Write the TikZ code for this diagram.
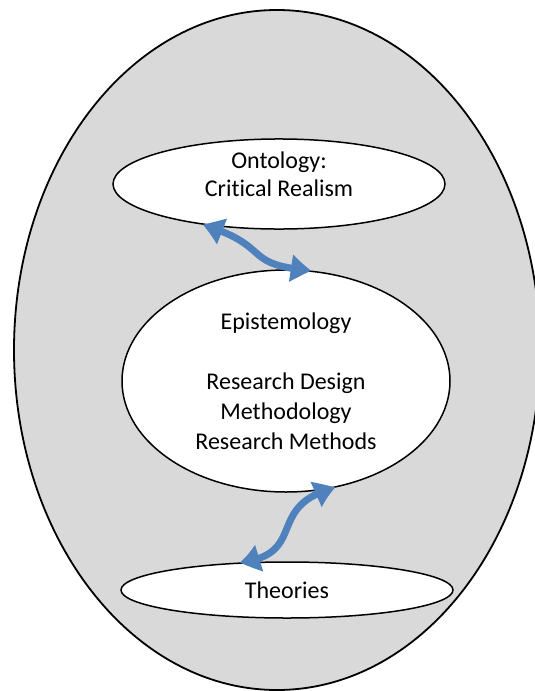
\documentclass[tikz,border=0pt]{standalone}
\usepackage{fontspec}
\setmainfont{Carlito}[Ligatures=NoCommon]
\usetikzlibrary{shapes.geometric,arrows.meta,bending}

\definecolor{shellgray}{RGB}{217,217,217}
\definecolor{arrowblue}{RGB}{79,129,189}

\begin{document}
\begin{tikzpicture}[x=1pt,y=-1pt,
  main node/.style={ellipse,draw,fill=white,line width=1.5pt,inner sep=0pt,
    font=\fontsize{24}{30}\selectfont,align=center},
  link/.style={arrowblue,line width=7pt,
    {Triangle[length=22pt,width=25pt,bend]}-{Triangle[length=22pt,width=25pt,bend]}}]

  \useasboundingbox (0,0) rectangle (535,691);

  \node[ellipse,draw,fill=shellgray,line width=1.8pt,inner sep=0pt,
    minimum width=526pt,minimum height=680pt] (Shell) at (277,350) {};

  \node[main node,minimum width=332pt,minimum height=74pt,
    font=\fontsize{24}{28}\selectfont,text depth=19pt] (Ontology) at (279,184)
    {Ontology:\\Critical Realism};
  \node[main node,minimum width=328pt,minimum height=222pt] (Epistemology) at (286,381)
    {Epistemology\\[30pt]Research Design\\Methodology\\Research Methods};
  \node[main node,minimum width=332pt,minimum height=56pt] (Theories) at (287,590)
    {Theories};

  \draw[link] (Ontology.208) .. controls +(72,22) and +(-72,-6) .. (Epistemology.77);
  \draw[link] (Epistemology.295) .. controls +(-72,18) and +(70,-8) .. (Theories.150);
\end{tikzpicture}
\end{document}
